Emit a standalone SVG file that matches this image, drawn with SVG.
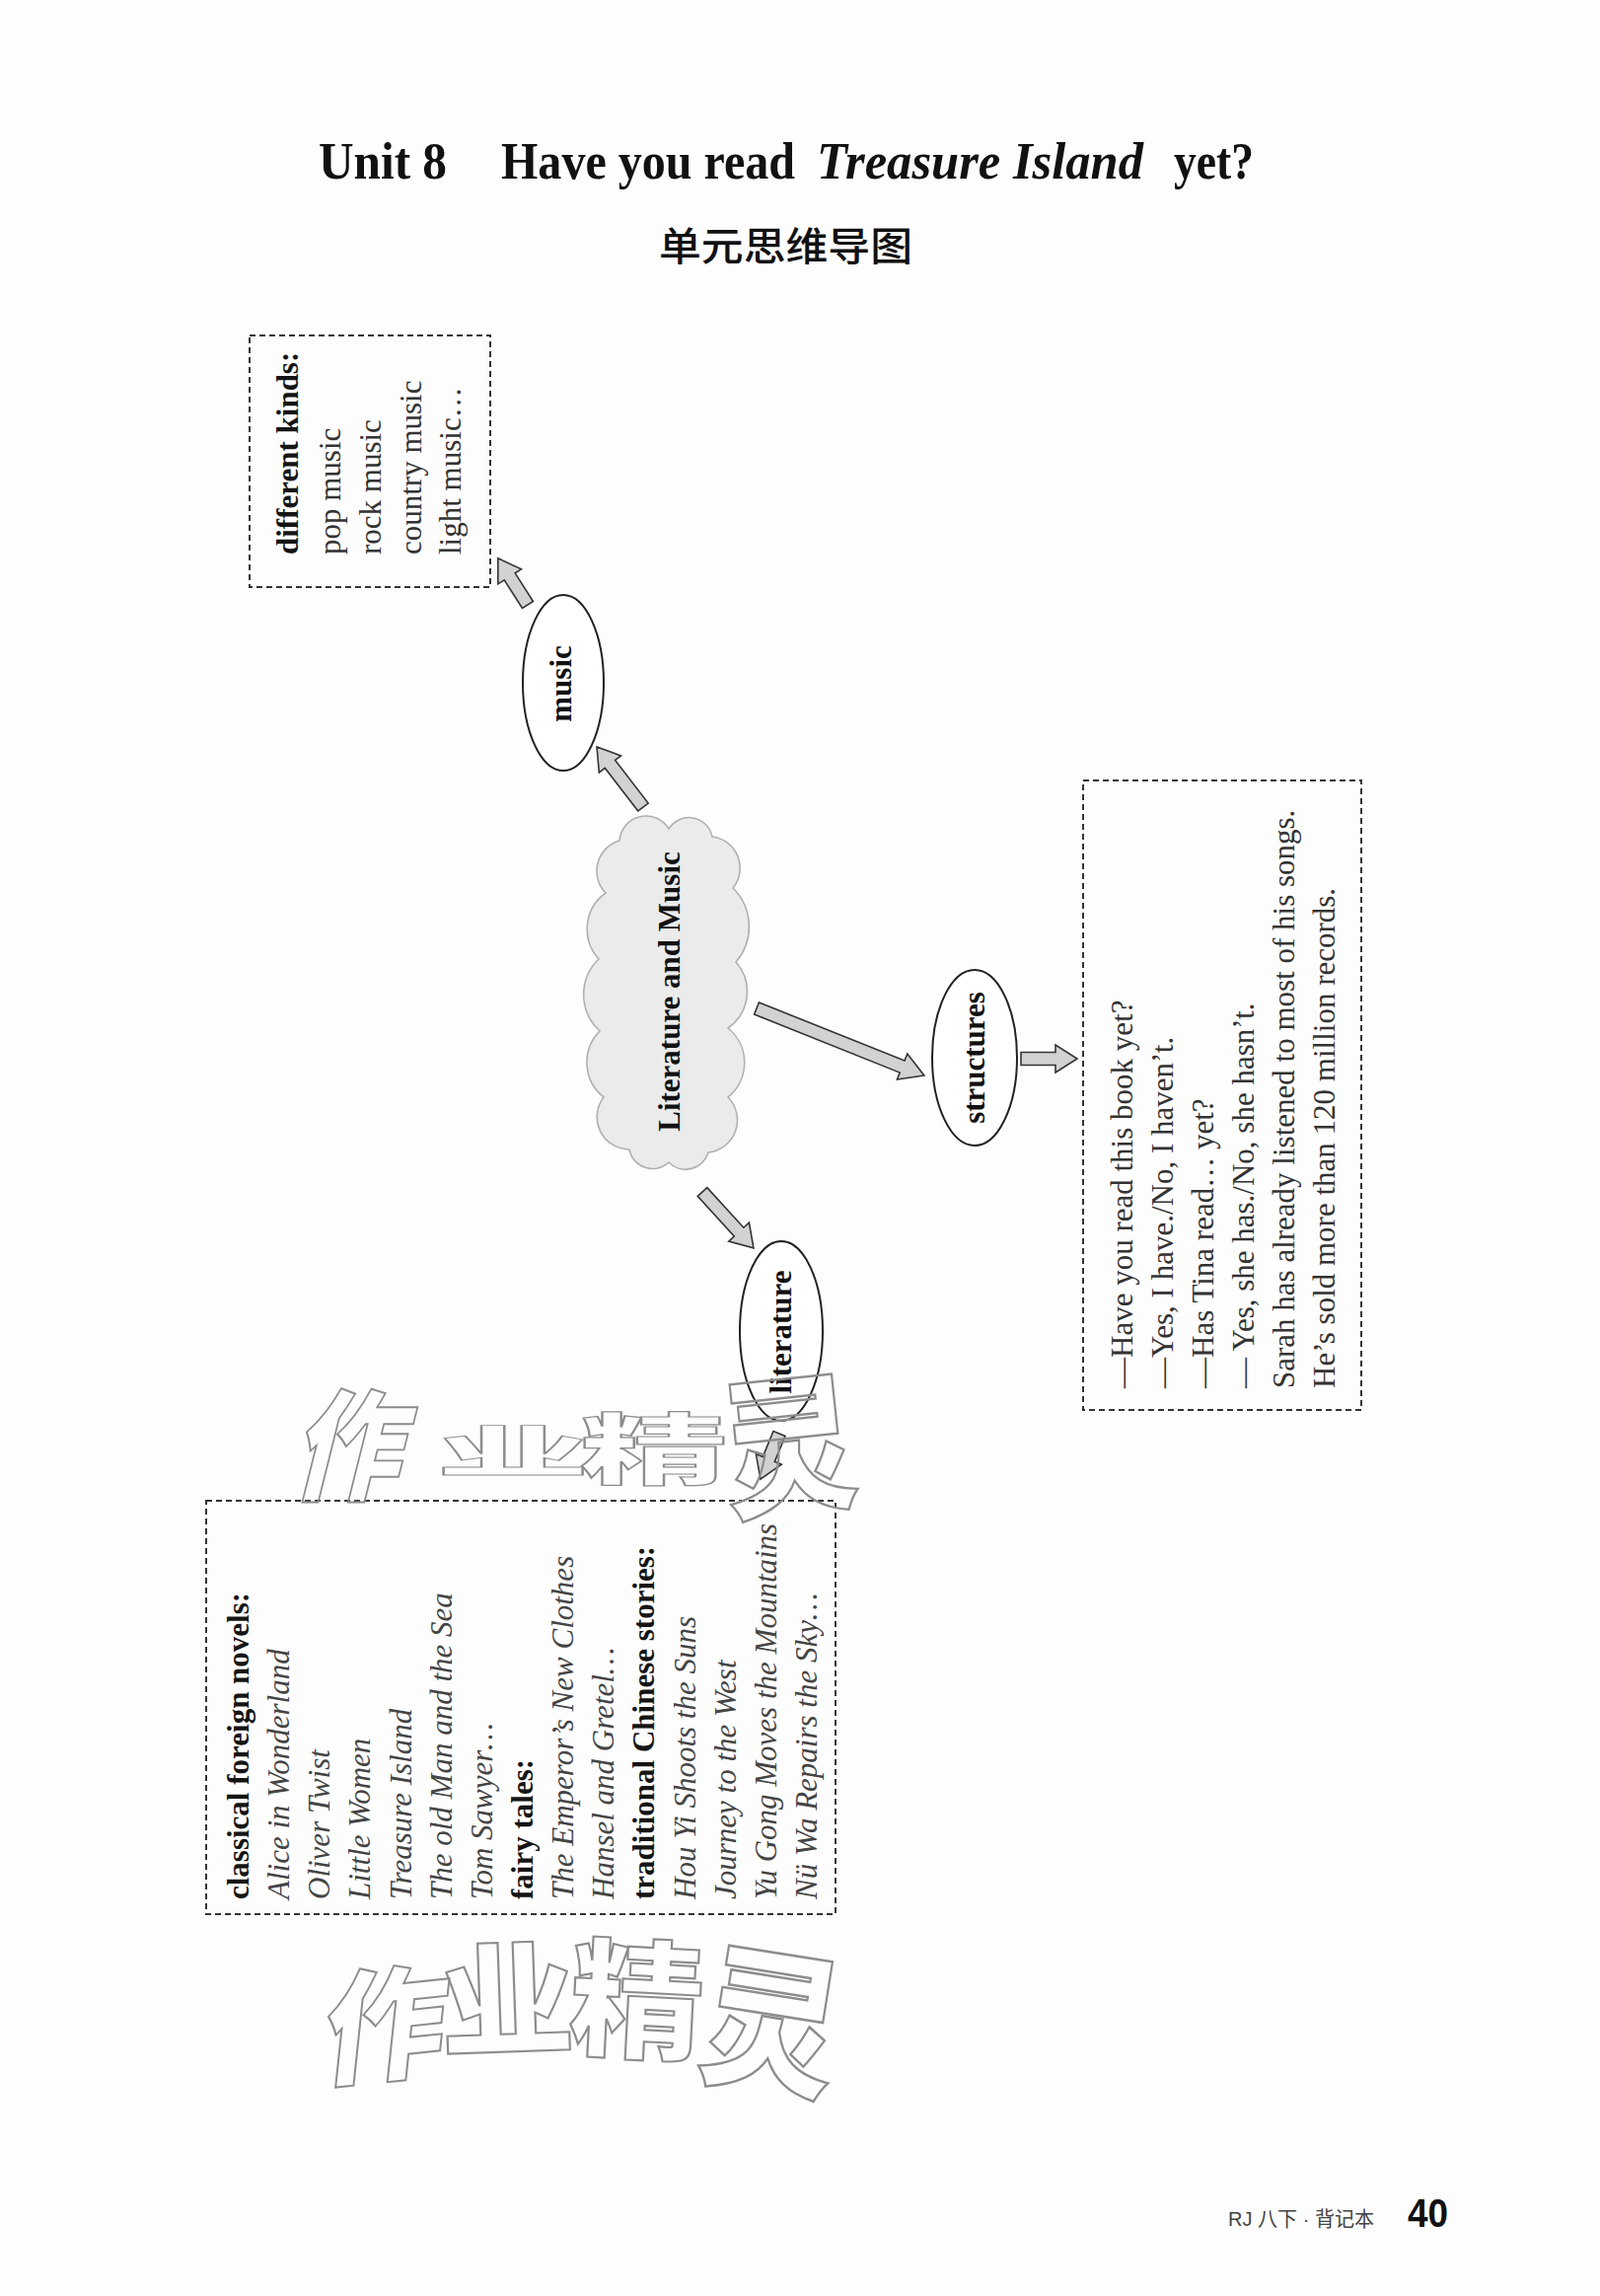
<svg xmlns="http://www.w3.org/2000/svg" width="1622" height="2327" viewBox="0 0 1622 2327">
<style>
.ttl{font-family:"Liberation Serif","Times New Roman",serif;font-size:52px;font-weight:bold;fill:#111;}
.lbl{font-family:"Liberation Serif","Times New Roman",serif;font-size:31px;font-weight:bold;fill:#111;}
.reg{font-family:"Liberation Serif","Times New Roman",serif;font-size:31px;fill:#333;}
.bold{font-family:"Liberation Serif","Times New Roman",serif;font-size:31px;font-weight:bold;fill:#151515;}
.it{font-family:"Liberation Serif","Times New Roman",serif;font-size:31px;font-style:italic;fill:#444;}
.box{fill:none;stroke:#333;stroke-width:2;stroke-dasharray:6 4;}
.ell{fill:#fff;stroke:#222;stroke-width:2;}
.barrow{fill:#d2d2d2;stroke:#333;stroke-width:1.6;stroke-linejoin:miter;}
.cloud{fill:#ebebeb;stroke:#b0b0b0;stroke-width:1.6;}
.wm{font-family:"Noto Sans CJK SC",sans-serif;font-weight:900;font-size:100px;fill:none;stroke:#8c8c8c;stroke-width:1.6;}
</style>
<rect width="1622" height="2327" fill="#fdfdfd"/>

<g id="title">
<text class="ttl" x="323" y="181" textLength="130" lengthAdjust="spacingAndGlyphs">Unit 8</text>
<text class="ttl" x="508" y="181" textLength="298" lengthAdjust="spacingAndGlyphs">Have you read</text>
<text class="ttl" x="828" y="181" font-style="italic" textLength="331" lengthAdjust="spacingAndGlyphs">Treasure Island</text>
<text class="ttl" x="1190" y="181" textLength="81" lengthAdjust="spacingAndGlyphs">yet?</text>
<text x="668" y="264" font-family="'Noto Sans CJK SC',sans-serif" font-size="40" font-weight="500" fill="#111" textLength="257" lengthAdjust="spacingAndGlyphs">单元思维导图</text>
</g>

<g id="connectors">
<polygon class="barrow" transform="translate(535 613) rotate(-122.6)" points="0,-6.5 34,-6.5 34,-14 56,0 34,14 34,6.5 0,6.5"/>
<polygon class="barrow" transform="translate(652 818) rotate(-127.6)" points="0,-6.5 55,-6.5 55,-14 77,0 55,14 55,6.5 0,6.5"/>
<polygon class="barrow" transform="translate(767 1022) rotate(21.8)" points="0,-6.5 159,-6.5 159,-14 183,0 159,14 159,6.5 0,6.5"/>
<polygon class="barrow" transform="translate(1035 1073)" points="0,-6.5 35,-6.5 35,-14 57,0 35,14 35,6.5 0,6.5"/>
<polygon class="barrow" transform="translate(712 1208) rotate(47.6)" points="0,-6.5 55,-6.5 55,-14 77,0 55,14 55,6.5 0,6.5"/>
<polygon class="barrow" transform="translate(790 1453) rotate(112.4)" points="0,-6.5 28,-6.5 28,-14 50,0 28,14 28,6.5 0,6.5"/>
</g>

<g id="node-music-box">
<rect class="box" x="253" y="340" width="244" height="255"/>
<text class="bold" transform="translate(302 562) rotate(-90)">different kinds:</text>
<text class="reg" transform="translate(345 562) rotate(-90)">pop music</text>
<text class="reg" transform="translate(386 562) rotate(-90)">rock music</text>
<text class="reg" transform="translate(427 562) rotate(-90)">country music</text>
<text class="reg" transform="translate(467 562) rotate(-90)">light music…</text>
</g>

<g id="node-music">
<ellipse class="ell" cx="571" cy="692" rx="41" ry="89"/>
<text class="lbl" transform="translate(579 693) rotate(-90)" text-anchor="middle">music</text>
</g>

<g id="node-center">
<path class="cloud" d="M628 852 A27 27 0 0 1 678 840 A24 24 0 0 1 722 848 A32 32 0 0 1 743 900 A55 55 0 0 1 746 975 A45 45 0 0 1 738 1042 A45 45 0 0 1 738 1112 A33 33 0 0 1 718 1168 A24 24 0 0 1 678 1178 A24 24 0 0 1 638 1165 A33 33 0 0 1 612 1112 A45 45 0 0 1 608 1045 A50 50 0 0 1 607 972 A45 45 0 0 1 614 905 A32 32 0 0 1 628 852 Z"/>
<text class="lbl" transform="translate(689 1005) rotate(-90)" text-anchor="middle">Literature and Music</text>
</g>

<g id="node-structures">
<ellipse class="ell" cx="988" cy="1072" rx="43" ry="89"/>
<text class="lbl" transform="translate(998 1072) rotate(-90)" text-anchor="middle">structures</text>
</g>

<g id="node-structures-box">
<rect class="box" x="1098" y="791" width="282" height="638"/>
<text class="reg" transform="translate(1148 1407) rotate(-90)">—Have you read this book yet?</text>
<text class="reg" transform="translate(1189 1407) rotate(-90)">—Yes, I have./No, I haven’t.</text>
<text class="reg" transform="translate(1230 1407) rotate(-90)">—Has Tina read… yet?</text>
<text class="reg" transform="translate(1271 1407) rotate(-90)">— Yes, she has./No, she hasn’t.</text>
<text class="reg" transform="translate(1312 1407) rotate(-90)">Sarah has already listened to most of his songs.</text>
<text class="reg" transform="translate(1353 1407) rotate(-90)">He’s sold more than 120 million records.</text>
</g>

<g id="node-literature">
<ellipse class="ell" cx="792" cy="1349" rx="42" ry="91"/>
<text class="lbl" transform="translate(802 1350) rotate(-90)" text-anchor="middle">literature</text>
</g>

<g id="node-literature-box">
<rect class="box" x="209" y="1521" width="638" height="419"/>
<text class="bold" transform="translate(252 1925) rotate(-90)">classical foreign novels:</text>
<text class="it" transform="translate(293 1925) rotate(-90)">Alice in Wonderland</text>
<text class="it" transform="translate(334 1925) rotate(-90)">Oliver Twist</text>
<text class="it" transform="translate(375 1925) rotate(-90)">Little Women</text>
<text class="it" transform="translate(417 1925) rotate(-90)">Treasure Island</text>
<text class="it" transform="translate(458 1925) rotate(-90)">The old Man and the Sea</text>
<text class="it" transform="translate(499 1925) rotate(-90)">Tom Sawyer…</text>
<text class="bold" transform="translate(540 1925) rotate(-90)">fairy tales:</text>
<text class="it" transform="translate(581 1925) rotate(-90)">The Emperor’s New Clothes</text>
<text class="it" transform="translate(622 1925) rotate(-90)">Hansel and Gretel…</text>
<text class="bold" transform="translate(663 1925) rotate(-90)">traditional Chinese stories:</text>
<text class="it" transform="translate(705 1925) rotate(-90)">Hou Yi Shoots the Suns</text>
<text class="it" transform="translate(746 1925) rotate(-90)">Journey to the West</text>
<text class="it" transform="translate(787 1925) rotate(-90)">Yu Gong Moves the Mountains</text>
<text class="it" transform="translate(828 1925) rotate(-90)">Nü Wa Repairs the Sky…</text>
</g>

<g id="watermark">
<text class="wm" text-anchor="middle" y="38" transform="translate(361 1465) skewX(-14) scale(1.1 1.22)">作</text>
<text class="wm" text-anchor="middle" y="38" transform="translate(520 1470) scale(1.55 0.55)">业</text>
<text class="wm" text-anchor="middle" y="38" transform="translate(663 1468) scale(1.5 0.78)">精</text>
<text class="wm" text-anchor="middle" y="38" transform="translate(800 1465) rotate(-6) scale(1.35 1.5)">灵</text>
<text class="wm" text-anchor="middle" y="38" transform="translate(392 2051) rotate(-6) skewX(-12) scale(1.25 1.24)">作</text>
<text class="wm" text-anchor="middle" y="38" transform="translate(514 2026) rotate(-2) scale(1.36 1.24)">业</text>
<text class="wm" text-anchor="middle" y="38" transform="translate(646 2026) rotate(3) scale(1.36 1.3)">精</text>
<text class="wm" text-anchor="middle" y="38" transform="translate(782 2049) rotate(9) scale(1.38 1.55)">灵</text>
</g>

<g id="footer">
<text x="1245" y="2256" font-family="'Liberation Sans','Noto Sans CJK SC',sans-serif" font-size="21" fill="#444" textLength="148" lengthAdjust="spacingAndGlyphs">RJ 八下 · 背记本</text>
<text x="1427" y="2257" font-family="'Liberation Sans',Arial,sans-serif" font-size="40" font-weight="bold" fill="#111" textLength="41" lengthAdjust="spacingAndGlyphs">40</text>
</g>
</svg>
